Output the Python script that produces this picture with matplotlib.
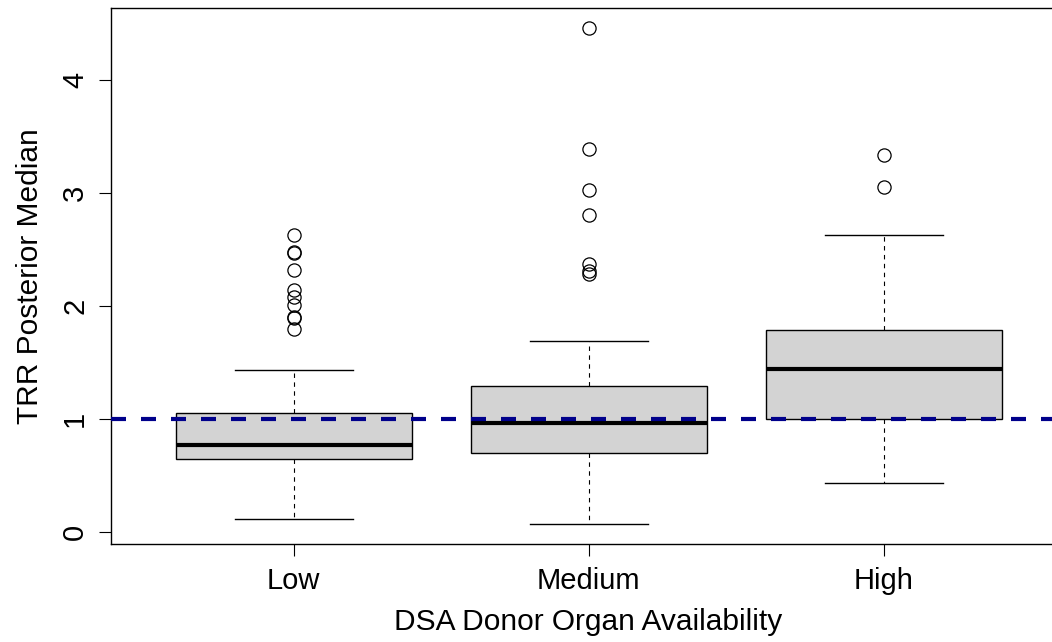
import numpy as np
import matplotlib
matplotlib.use('Agg')
import matplotlib.pyplot as plt

plt.rcParams['font.family'] = ['Liberation Sans', 'DejaVu Sans']

# Box summaries
categories = ['Low', 'Medium', 'High']
q1 = [0.645, 0.70, 1.00]
med = [0.77, 0.97, 1.44]
q3 = [1.057, 1.29, 1.79]
whislo = [0.115, 0.07, 0.44]
whishi = [1.435, 1.69, 2.63]
fliers_low = [2.63, 2.48, 2.467, 2.32, 2.14, 2.08, 2.01, 1.906, 1.892, 1.80]
fliers_medium = [4.46, 3.39, 3.03, 2.81, 2.37, 2.31, 2.28]
fliers_high = [3.34, 3.05]
ref_line = 1.0

fliers = [fliers_low, fliers_medium, fliers_high]
stats = []
for i in range(len(categories)):
    stats.append(dict(label=categories[i], med=med[i], q1=q1[i], q3=q3[i],
                      whislo=whislo[i], whishi=whishi[i], fliers=fliers[i]))

W, H = 1052, 642
fig = plt.figure(figsize=(W / 100, H / 100), dpi=100)
left, right, top, bottom = 110.7, 1052, 8, 544.3
ax = fig.add_axes([left / W, 1 - bottom / H, (right - left) / W, (bottom - top) / H])

pos = np.arange(1, len(categories) + 1)
ax.bxp(stats, positions=pos, widths=0.8, capwidths=0.4, patch_artist=True,
       boxprops=dict(facecolor='#d3d3d3', edgecolor='black', linewidth=1.0),
       medianprops=dict(color='black', linewidth=3.0, solid_capstyle='butt'),
       whiskerprops=dict(color='black', linewidth=0.8, linestyle=(0, (4, 4))),
       capprops=dict(color='black', linewidth=1.0),
       flierprops=dict(marker='o', markerfacecolor='none', markeredgecolor='black',
                       markersize=9.5, markeredgewidth=0.9))

ax.axhline(ref_line, color='#00008b', linewidth=3.0, linestyle=(0, (3.6, 3.6)), zorder=5)

# R-style 4% extension
allv = whislo + whishi + fliers_low + fliers_medium + fliers_high
ymin, ymax = min(allv), max(allv)
ext = 0.04 * (ymax - ymin)
ax.set_ylim(ymin - ext, ymax + ext)
x0 = 0.38
x1 = x0 + (right - left) / 295.0
ax.set_xlim(x0, x1)

ax.spines['right'].set_visible(False)
for s in ['left', 'top', 'bottom']:
    ax.spines[s].set_linewidth(1.0)

ax.set_yticks([0, 1, 2, 3, 4])
ax.set_xticks(pos)
ax.set_xticklabels(categories)
ax.tick_params(axis='both', length=8.6, width=0.8, labelsize=21, direction='out')
ax.tick_params(axis='x', pad=8)
ax.tick_params(axis='y', pad=7)
for lab in ax.get_yticklabels():
    lab.set_rotation(90)
    lab.set_va('center')

ax.set_xlabel('DSA Donor Organ Availability', fontsize=21.5, labelpad=9)
ax.set_ylabel('TRR Posterior Median', fontsize=21.5, labelpad=12)
# R centres the label on the full plot region, which runs past the image edge
ax.xaxis.label.set_x((2.0 - x0) / (x1 - x0))

fig.savefig('out.png', dpi=100)
